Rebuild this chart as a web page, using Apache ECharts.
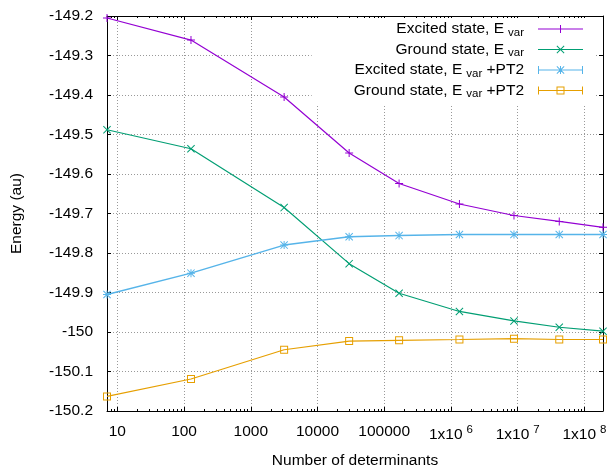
<!DOCTYPE html>
<html>
<head>
<meta charset="utf-8">
<script src="https://cdn.jsdelivr.net/npm/echarts@6/dist/echarts.min.js"></script>
<style>
html, body { margin: 0; padding: 0; background: #fff; }
#main { width: 608px; height: 467px; }
</style>
</head>
<body>
<div id="main"></div>
<script>
var chart = echarts.init(document.getElementById('main'), null, { renderer: 'canvas' });

// number of determinants (x, log scale)
var determinants = [7, 127, 3160, 29800, 167000, 1340000, 8800000, 42000000, 190000000];
// energies (au)
var excitedVar = [-149.205, -149.261, -149.405, -149.547, -149.624, -149.676, -149.705, -149.720, -149.735];
var groundVar  = [-149.488, -149.536, -149.685, -149.827, -149.902, -149.948, -149.972, -149.988, -149.998];
var excitedPT2 = [-149.905, -149.851, -149.780, -149.759, -149.756, -149.753, -149.753, -149.753, -149.753];
var groundPT2  = [-150.163, -150.119, -150.045, -150.023, -150.021, -150.019, -150.017, -150.019, -150.019];

var seriesNames = ['Excited state, Evar', 'Ground state, Evar', 'Excited state, Evar+PT2', 'Ground state, Evar+PT2'];
var legendLabels = [
	'Excited state, E{sub|var}',
	'Ground state, E{sub|var}',
	'Excited state, E{sub|var} +PT2',
	'Ground state, E{sub|var} +PT2'
];
var majorTicks = [10, 100, 1000, 10000, 100000, 1e6, 1e7, 1e8];
var yTicks = { min: -150.2, max: -149.2, step: 0.1 };

var FONT = 'Liberation Sans';
var FS = 15.5;

function pairs(ys) {
	return determinants.map(function(x, i) { return [x, ys[i]]; });
}

// minor ticks 2..9 x 10^n inside the x range
var minorTicks = [];
for (var e = 0; e <= 8; e++) {
	for (var m = 2; m <= 9; m++) {
		var v = m * Math.pow(10, e);
		if (v > determinants[0] && v < determinants[determinants.length - 1]) minorTicks.push(v);
	}
}

var colors = ['#9400d3', '#009e73', '#56b4e9', '#e69f00'];

var plusPath = 'path://M0,3.5h8v1H0z M3.5,0h1v8h-1z';
var crossPath = 'path://M0.7,0L8,7.3L7.3,8L0,0.7z M7.3,0L8,0.7L0.7,8L0,7.3z';
var starPath = 'path://M0,3.5h8v1H0z M3.5,0h1v8h-1z M0.7,0L8,7.3L7.3,8L0,0.7z M7.3,0L8,0.7L0.7,8L0,7.3z';
var boxPath = 'path://M0,0h8v8H0z M1,1v6h6V1z';

// legend samples: line + marker (+ error bar caps)
var lineSeg = 'M0,4.5h45v1H0z';
var caps = ' M0,1h1v8H0z M44,1h1v8h-1z';
var legendIcons = [
	'path://' + lineSeg + ' M22,1h1v8h-1z',
	'path://' + lineSeg + ' M19.2,1L26.5,8.3L25.8,9L18.5,1.7z M25.8,1L26.5,1.7L19.2,9L18.5,8.3z',
	'path://' + lineSeg + caps + ' M22,1h1v8h-1z M19.2,1L26.5,8.3L25.8,9L18.5,1.7z M25.8,1L26.5,1.7L19.2,9L18.5,8.3z',
	'path://' + lineSeg + caps + ' M18.5,1h8v8h-8z M19.5,2v6h6v-6z'
];

function logAxis(pos, opts) {
	var a = {
		type: 'log',
		logBase: 10,
		position: pos,
		min: determinants[0],
		max: determinants[determinants.length - 1],
		axisLine: { show: true, onZero: false, lineStyle: { color: '#000', width: 1 } },
		axisTick: { show: true, inside: true, length: 4, lineStyle: { color: '#000' } },
		axisLabel: { show: false },
		splitLine: { show: false },
		minorTick: { show: false }
	};
	return Object.assign(a, opts || {});
}

var option = {
	animation: false,
	textStyle: { fontFamily: FONT },
	grid: { left: 107, top: 16, right: 5, bottom: 56, outerBoundsMode: 'none', containLabel: false },
	color: colors,
	legend: {
		orient: 'vertical',
		align: 'right',
		right: 13,
		top: 18,
		padding: [3, 12, 6, 42],
		backgroundColor: '#fff',
		itemWidth: 45,
		itemHeight: 10,
		itemGap: 3,
		selectedMode: false,
		z: 10,
		itemStyle: { borderWidth: 0 },
		data: seriesNames.map(function(n, i) { return { name: n, icon: legendIcons[i] }; }),
		formatter: function(name) { return legendLabels[seriesNames.indexOf(name)]; },
		textStyle: {
			fontFamily: FONT,
			fontSize: FS,
			color: '#000',
			padding: [0, 9, 0, 0],
			rich: {
				sub: { fontFamily: FONT, fontSize: 11.5, color: '#000', padding: [7, 0, 0, 4] }
			}
		}
	},
	xAxis: [
		logAxis('bottom', {
			name: 'Number of determinants',
			nameLocation: 'middle',
			nameGap: 42,
			nameTextStyle: { fontFamily: FONT, fontSize: FS, color: '#000' },
			axisTick: { show: true, inside: true, length: 4, lineStyle: { color: '#000' }, customValues: majorTicks },
			axisLabel: {
				show: true,
				customValues: majorTicks,
				margin: 13,
				fontFamily: FONT,
				fontSize: FS,
				color: '#000',
				formatter: function(v) {
					var p = Math.round(Math.log10(v));
					if (p < 6) return String(Math.round(v));
					return '1x10{sup|' + p + '}';
				},
				rich: {
					sup: { fontFamily: FONT, fontSize: 11.5, color: '#000', padding: [0, 0, 9, 4] }
				}
			},
			splitLine: { show: true, lineStyle: { color: '#999', type: [1, 2], width: 1 } }
		}),
		logAxis('top', { axisTick: { show: true, inside: true, length: 4, lineStyle: { color: '#000' }, customValues: majorTicks } }),
		logAxis('bottom', { axisLine: { show: false }, axisTick: { show: true, inside: true, length: 2, lineStyle: { color: '#000' }, customValues: minorTicks } }),
		logAxis('top', { axisLine: { show: false }, axisTick: { show: true, inside: true, length: 2, lineStyle: { color: '#000' }, customValues: minorTicks } })
	],
	yAxis: [
		{
			type: 'value',
			position: 'left',
			min: yTicks.min,
			max: yTicks.max,
			interval: yTicks.step,
			name: 'Energy (au)',
			nameLocation: 'middle',
			nameGap: 82,
			nameTextStyle: { fontFamily: FONT, fontSize: FS, color: '#000' },
			axisLine: { show: true, onZero: false, lineStyle: { color: '#000', width: 1 } },
			axisTick: { show: true, inside: true, length: 4, lineStyle: { color: '#000' } },
			axisLabel: {
				margin: 14,
				fontFamily: FONT,
				fontSize: FS,
				color: '#000',
				formatter: function(v) { return String(Math.round(v * 10) / 10); }
			},
			splitLine: { show: true, lineStyle: { color: '#999', type: [1, 2], width: 1 } }
		},
		{
			type: 'value',
			position: 'right',
			min: yTicks.min,
			max: yTicks.max,
			interval: yTicks.step,
			axisLine: { show: true, onZero: false, lineStyle: { color: '#000', width: 1 } },
			axisTick: { show: true, inside: true, length: 4, lineStyle: { color: '#000' } },
			axisLabel: { show: false },
			splitLine: { show: false }
		}
	],
	series: [
		{ name: seriesNames[0], type: 'line', data: pairs(excitedVar), symbol: plusPath, symbolSize: 8, clip: false,
		  lineStyle: { width: 1.2 }, itemStyle: { borderWidth: 0 } },
		{ name: seriesNames[1], type: 'line', data: pairs(groundVar), symbol: crossPath, symbolSize: 8, clip: false,
		  lineStyle: { width: 1.2 }, itemStyle: { borderWidth: 0 } },
		{ name: seriesNames[2], type: 'line', data: pairs(excitedPT2), symbol: starPath, symbolSize: 8, clip: false,
		  lineStyle: { width: 1.5 }, itemStyle: { borderWidth: 0 } },
		{ name: seriesNames[3], type: 'line', data: pairs(groundPT2), symbol: boxPath, symbolSize: 8, clip: false,
		  lineStyle: { width: 1.2 }, itemStyle: { borderWidth: 0 } }
	]
};

chart.setOption(option);

window.addEventListener('resize', function() {
	chart.resize();
});
</script>
</body>
</html>
